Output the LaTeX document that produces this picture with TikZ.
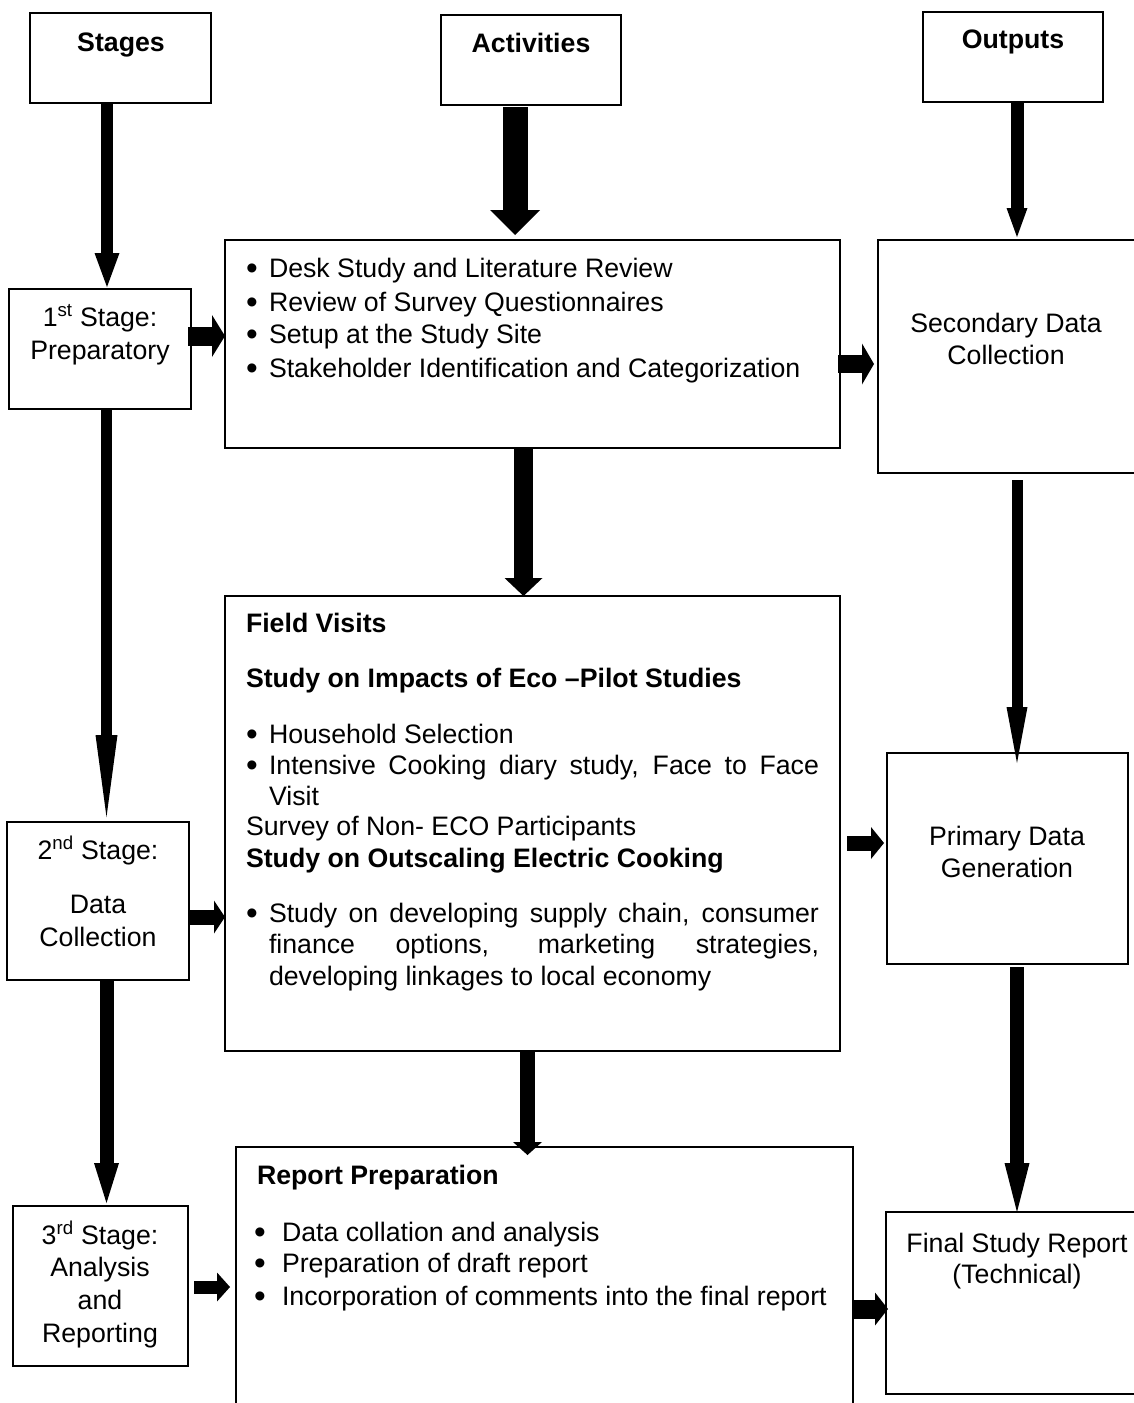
\documentclass[tikz,border=0pt]{standalone}
\usepackage{fontspec}
\setmainfont{Liberation Sans}
\usetikzlibrary{arrows.meta}
\tikzset{
 boxst/.style={draw, line width=1.5pt, inner sep=0pt, outer sep=0pt},
 txt/.style={inner sep=0pt, outer sep=0pt, font=\fontsize{26.7}{32}\selectfont},
 ctxt/.style={txt, anchor=base},
 ltxt/.style={txt, anchor=base west},
 barr/.style n args={3}{line width=#1, arrows={-{Triangle[length=#2,width=#3,line width=0pt]}}},
}
\newcommand\bulglyph{\smash{\raisebox{-2pt}{\scalebox{1.25}{\textbullet}}}}
\newcommand\bul{\makebox[23pt][l]{\bulglyph}}
\newcommand\bulw{\makebox[28pt][l]{\bulglyph}}
\begin{document}
\begin{tikzpicture}[x=1pt,y=-1pt]
\useasboundingbox (0,0) rectangle (1134,1403);
\clip (0,0) rectangle (1134,1403);
\fill[white] (0,0) rectangle (1134,1403);

% boxes
\node[boxst, minimum width=181pt, minimum height=90pt] (stages) at (120.5,58) {};
\node[boxst, minimum width=180pt, minimum height=90pt] (activities) at (531,60) {};
\node[boxst, minimum width=180pt, minimum height=90pt] (outputs) at (1013,57) {};
\node[boxst, minimum width=182pt, minimum height=120pt] (st1) at (100,349) {};
\node[boxst, minimum width=615pt, minimum height=208pt] (act1) at (532.5,344) {};
\node[boxst, minimum width=292pt, minimum height=233pt] (sec) at (1024,356.5) {};
\node[boxst, minimum width=182pt, minimum height=158pt] (st2) at (98,901) {};
\node[boxst, minimum width=615pt, minimum height=455pt] (act2) at (532.5,823.5) {};
\node[boxst, minimum width=241pt, minimum height=211pt] (prim) at (1007.5,858.5) {};
\node[boxst, minimum width=175pt, minimum height=160pt] (st3) at (100.5,1286) {};
\node[boxst, minimum width=617pt, minimum height=283pt] (act3) at (544.5,1288.5) {};
\node[boxst, minimum width=284pt, minimum height=182pt] (fin) at (1028,1303) {};

% header texts
\node[ctxt] (tstages) at (121,51) {\bfseries Stages};
\node[ctxt] (tact) at (531,52) {\bfseries Activities};
\node[ctxt] (tout) at (1013,48) {\bfseries Outputs};

% stage texts
\node[ctxt] (t1a) at (100,326) {1\textsuperscript{st} Stage:};
\node[ctxt] (t1b) at (100,359) {Preparatory};
\node[ctxt] (t2a) at (98,859) {2\textsuperscript{nd} Stage:};
\node[ctxt] (t2b) at (98,913) {Data};
\node[ctxt] (t2c) at (98,946) {Collection};
\node[ctxt] (t3a) at (100,1244) {3\textsuperscript{rd} Stage:};
\node[ctxt] (t3b) at (100,1276) {Analysis};
\node[ctxt] (t3c) at (100,1309) {and};
\node[ctxt] (t3d) at (100,1342) {Reporting};

% activity 1
\node[ltxt] (a1a) at (246,277) {\bul Desk Study and Literature Review};
\node[ltxt] (a1b) at (246,311) {\bul Review of Survey Questionnaires};
\node[ltxt] (a1c) at (246,343) {\bul Setup at the Study Site};
\node[ltxt] (a1d) at (246,377) {\bul Stakeholder Identification and Categorization};

% activity 2
\node[ltxt] (a2a) at (246,632) {\bfseries Field Visits};
\node[ltxt] (a2b) at (246,687) {\bfseries Study on Impacts of Eco –Pilot Studies};
\node[ltxt] (a2c) at (246,743) {\bul Household Selection};
\node[ltxt] (a2d) at (246,774) {\bul\makebox[550pt][s]{Intensive Cooking diary study, Face to Face}};
\node[ltxt] (a2e) at (269,805) {Visit};
\node[ltxt] (a2f) at (246,835) {Survey of Non- ECO Participants};
\node[ltxt] (a2g) at (246,867) {\bfseries Study on Outscaling Electric Cooking};
\node[ltxt] (a2h) at (246,922) {\bul\makebox[550pt][s]{Study on developing supply chain, consumer}};
\node[ltxt] (a2i) at (269,953) {\makebox[550pt][s]{finance options, marketing strategies,}};
\node[ltxt] (a2j) at (269,985) {developing linkages to local economy};

% activity 3
\node[ltxt] (a3a) at (257,1184) {\bfseries Report Preparation};
\node[ltxt] (a3b) at (254,1241) {\bulw Data collation and analysis};
\node[ltxt] (a3c) at (254,1272) {\bulw Preparation of draft report};
\node[ltxt] (a3d) at (254,1305) {\bulw Incorporation of comments into the final report};

% outputs texts
\node[ctxt] (o1a) at (1006,332) {Secondary Data};
\node[ctxt] (o1b) at (1006,364) {Collection};
\node[ctxt] (o2a) at (1007,845) {Primary Data};
\node[ctxt] (o2b) at (1007,877) {Generation};
\node[ctxt] (o3a) at (1017,1252) {Final Study Report};
\node[ctxt] (o3b) at (1017,1283) {(Technical)};

% vertical arrows
\draw[barr={12pt}{34pt}{25pt}, shorten >=2pt] (stages.south -| 107,0) -- (st1.north -| 107,0);
\draw[barr={11pt}{82pt}{22pt}, shorten >=5pt] (st1.south -| 106.5,0) -- (st2.north -| 106.5,0);
\draw[barr={14pt}{40pt}{25pt}, shorten >=3pt] (st2.south -| 106.5,0) -- (st3.north -| 106.5,0);
\draw[barr={25pt}{25pt}{50pt}, shorten <=2pt, shorten >=5pt] (activities.south -| 515,0) -- (act1.north -| 515,0);
\draw[barr={19pt}{18pt}{38pt}] (act1.south -| 523.5,0) -- (act2.north -| 523.5,0);
\draw[barr={15pt}{13pt}{29pt}, shorten >=-8pt] (act2.south -| 527.5,0) -- (act3.north -| 527.5,0);
\draw[barr={13pt}{29pt}{21pt}, shorten >=3pt] (outputs.south -| 1017,0) -- (sec.north -| 1017,0);
\draw[barr={11pt}{56pt}{21pt}, shorten <=7pt, shorten >=-10pt] (sec.south -| 1017,0) -- (prim.north -| 1017,0);
\draw[barr={14pt}{49pt}{25pt}, shorten <=3pt] (prim.south -| 1017,0) -- (fin.north -| 1017,0);

% horizontal arrows
\draw[barr={19pt}{13pt}{42pt}, shorten <=-3pt] (st1.east |- 0,336) -- (act1.west |- 0,336);
\draw[barr={18pt}{12pt}{41pt}, shorten <=-2pt, shorten >=4pt] (act1.east |- 0,364) -- (sec.west |- 0,364);
\draw[barr={15pt}{11pt}{33pt}] (st2.east |- 0,917) -- (act2.west |- 0,917);
\draw[barr={15pt}{13pt}{32pt}, shorten <=7pt, shorten >=3pt] (act2.east |- 0,843) -- (prim.west |- 0,843);
\draw[barr={13pt}{13pt}{29pt}, shorten <=6pt, shorten >=6pt] (st3.east |- 0,1287) -- (act3.west |- 0,1287);
\draw[barr={19pt}{13pt}{33pt}, shorten >=-2pt] (act3.east |- 0,1309) -- (fin.west |- 0,1309);
\end{tikzpicture}
\end{document}
